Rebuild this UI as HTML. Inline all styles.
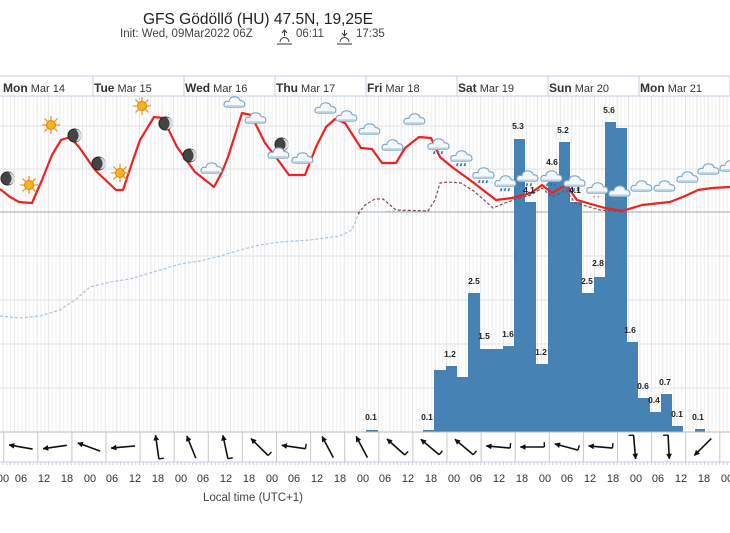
<!DOCTYPE html>
<html><head><meta charset="utf-8"><style>
html,body{margin:0;padding:0;background:#fff;}
svg{display:block;font-family:"Liberation Sans",sans-serif;}
.t{font-size:11px;fill:#333;}
.bl{font-size:8.5px;fill:#222;font-weight:bold;text-anchor:middle;}
.dl{font-size:12px;fill:#333;}
</style></head><body>
<svg id="s" width="730" height="533" viewBox="0 0 730 533" xmlns="http://www.w3.org/2000/svg">
<defs>
<symbol id="cl" viewBox="0 0 24 16">
<path d="M4 14 Q0 14 1 10 Q2 7 6 8 Q7 3 12 3 Q17 3 18 7 Q23 7 23 11 Q23 14 19 14 Z" fill="#f4f8fb" stroke="#7fa6c4" stroke-width="1.2"/>
<path d="M3 13 L21 13" stroke="#b9d0e2" stroke-width="2"/>
</symbol>
<symbol id="rn" viewBox="0 0 24 22">
<use href="#cl" x="0" y="0" width="24" height="16"/>
<path d="M8 16 l-1 3 M12 16 l-1 3 M16 16 l-1 3" stroke="#2a6fb0" stroke-width="1.6"/>
</symbol>
<symbol id="sn" viewBox="0 0 24 22">
<use href="#cl" x="0" y="0" width="24" height="16"/>
<text x="7" y="21" font-size="7" fill="#888">* *</text>
</symbol>
<symbol id="sun" viewBox="0 0 20 20">
<g stroke="#f39a1e" stroke-width="1.3">
<path d="M10 1v4M10 15v4M1 10h4M15 10h4M3.5 3.5l3 3M13.5 13.5l3 3M3.5 16.5l3-3M13.5 6.5l3-3"/></g>
<circle cx="10" cy="10" r="4.5" fill="#f7b51c" stroke="#e07a10"/>
</symbol>
<symbol id="moon" viewBox="0 0 16 16">
<circle cx="8" cy="8" r="7" fill="#444" stroke="#222"/>
<path d="M9 1.5 A6.5 6.5 0 0 1 9 14.5 A8 8 0 0 0 9 1.5Z" fill="#ddd"/>
</symbol>
</defs>
<g id="grid"></g>
<!-- title -->
<text x="258" y="24" font-size="15.5" fill="#222" text-anchor="middle">GFS Gödöllő (HU) 47.5N, 19,25E</text>
<text x="120" y="37" font-size="11.5" fill="#444">Init: Wed, 09Mar2022 06Z</text>
<g stroke="#333" fill="none" stroke-width="1"><path d="M277 44h15M280 42a4.5 4.5 0 0 1 9 0M284.5 31v5M282 33l2.5-3 2.5 3"/><path d="M337 44h15M340 42a4.5 4.5 0 0 1 9 0M344.5 30v6M342 33l2.5 3 2.5-3"/></g>
<text x="296" y="37" font-size="11.5" fill="#444">06:11</text>
<text x="356" y="37" font-size="11.5" fill="#444">17:35</text>
<!-- header -->
<line x1="0" y1="76" x2="730" y2="76" stroke="#c7d0e0"/>
<line x1="0" y1="96" x2="730" y2="96" stroke="#c7d0e0"/>
<g class="dl">
<text x="3" y="92"><tspan font-weight="bold">Mon</tspan><tspan font-size="11"> Mar 14</tspan></text>
<text x="94" y="92"><tspan font-weight="bold">Tue</tspan><tspan font-size="11"> Mar 15</tspan></text>
<text x="185" y="92"><tspan font-weight="bold">Wed</tspan><tspan font-size="11"> Mar 16</tspan></text>
<text x="276" y="92"><tspan font-weight="bold">Thu</tspan><tspan font-size="11"> Mar 17</tspan></text>
<text x="367" y="92"><tspan font-weight="bold">Fri</tspan><tspan font-size="11"> Mar 18</tspan></text>
<text x="458" y="92"><tspan font-weight="bold">Sat</tspan><tspan font-size="11"> Mar 19</tspan></text>
<text x="549" y="92"><tspan font-weight="bold">Sun</tspan><tspan font-size="11"> Mar 20</tspan></text>
<text x="640" y="92"><tspan font-weight="bold">Mon</tspan><tspan font-size="11"> Mar 21</tspan></text>
<text x="731" y="92" font-weight="bold">T</text>
</g>
<g id="bars" fill="#4682b4"></g>
<!-- lines -->
<polyline fill="none" stroke="#a8c4e0" stroke-width="1.2" stroke-dasharray="3,2" points="0,316 20,318 40,316 60,310 75,300 90,287 110,282 130,279 160,270 180,264 200,261 220,256 240,250 260,245 280,242 310,240 340,236 352,230 357,218 360,212 380,212 395,211 430,211"/>
<polyline fill="none" stroke="#8b4a4a" stroke-width="1.2" stroke-dasharray="3,2" points="358,214 365,205 375,199 383,199 390,205 396,210 428,211 435,200 440,183 448,182 461,183 475,192 493,208 505,203 520,198 531,195 542,188 552,197 566,190 575,203 600,210 622,212"/>
<polyline fill="none" stroke="#ee2222" stroke-width="2.2" stroke-linejoin="round" points="0,189 10,197 19,202 32,203 42,180 52,155 61,140 70,137 79,147 95,170 116,190 123,190 132,163 140,140 154,117 163,118 177,147 195,172 214,187 222,172 228,157 242,113 251,115 265,143 278,160 289,175 305,175 316,147 326,127 335,119 345,123 361,148 372,149 382,163 396,163 405,148 419,137 431,138 440,157 452,167 470,180 496,200 512,198 531,193 542,185 552,193 566,185 577,200 605,208 622,211 642,205 670,202 685,196 698,190 712,188 730,187"/>
<!-- icons -->
<g>
<use href="#moon" x="0" y="171" width="15" height="15"/>
<use href="#moon" x="67" y="128" width="15" height="15"/>
<use href="#moon" x="91" y="156" width="15" height="15"/>
<use href="#moon" x="158" y="116" width="15" height="15"/>
<use href="#moon" x="182" y="148" width="15" height="15"/>
<use href="#moon" x="274" y="137" width="15" height="15"/>
<use href="#sun" x="19" y="175" width="20" height="20"/>
<use href="#sun" x="41" y="115" width="20" height="20"/>
<use href="#sun" x="110" y="163" width="20" height="20"/>
<use href="#sun" x="132" y="96" width="20" height="20"/>
<use href="#cl" x="223" y="94" width="23" height="15"/>
<use href="#cl" x="244" y="110" width="23" height="15"/>
<use href="#cl" x="200" y="160" width="23" height="15"/>
<use href="#cl" x="267" y="145" width="23" height="15"/>
<use href="#cl" x="291" y="150" width="23" height="15"/>
<use href="#cl" x="314" y="100" width="23" height="15"/>
<use href="#cl" x="335" y="108" width="23" height="15"/>
<use href="#cl" x="358" y="121" width="23" height="15"/>
<use href="#cl" x="381" y="137" width="23" height="15"/>
<use href="#cl" x="403" y="111" width="23" height="15"/>
<use href="#rn" x="427" y="136" width="23" height="21"/>
<use href="#rn" x="450" y="148" width="23" height="21"/>
<use href="#rn" x="472" y="165" width="23" height="21"/>
<use href="#rn" x="494" y="173" width="23" height="21"/>
<use href="#rn" x="516" y="168" width="23" height="21"/>
<use href="#rn" x="540" y="168" width="23" height="21"/>
<use href="#rn" x="563" y="173" width="23" height="21"/>
<use href="#sn" x="586" y="180" width="23" height="21"/>
<use href="#sn" x="608" y="183" width="23" height="21"/>
<use href="#cl" x="630" y="178" width="23" height="15"/>
<use href="#cl" x="653" y="178" width="23" height="15"/>
<use href="#cl" x="676" y="169" width="23" height="15"/>
<use href="#cl" x="697" y="161" width="23" height="15"/>
<use href="#cl" x="719" y="158" width="23" height="15"/>
</g>
<!-- bar labels -->
<g class="bl">
<text x="371" y="420">0.1</text>
<text x="427" y="420">0.1</text>
<text x="450" y="357">1.2</text>
<text x="474" y="284">2.5</text>
<text x="484" y="339">1.5</text>
<text x="508" y="337">1.6</text>
<text x="518" y="129">5.3</text>
<text x="529" y="193">4.1</text>
<text x="541" y="355">1.2</text>
<text x="552" y="165">4.6</text>
<text x="563" y="133">5.2</text>
<text x="575" y="193">4.1</text>
<text x="587" y="284">2.5</text>
<text x="598" y="266">2.8</text>
<text x="609" y="113">5.6</text>
<text x="630" y="333">1.6</text>
<text x="643" y="389">0.6</text>
<text x="654" y="403">0.4</text>
<text x="665" y="385">0.7</text>
<text x="677" y="417">0.1</text>
<text x="698" y="420">0.1</text>
</g>
<!-- wind row -->
<line x1="0" y1="432" x2="730" y2="432" stroke="#bbb"/>
<line x1="0" y1="462" x2="730" y2="462" stroke="#c7d0e0"/>
<g id="wind" stroke="#111" stroke-width="1.6" fill="none"></g>
<g class="t" text-anchor="middle" id="ticks">
<text x="3" y="482">00</text><text x="21" y="482">06</text><text x="44" y="482">12</text><text x="67" y="482">18</text>
<text x="90" y="482">00</text><text x="112" y="482">06</text><text x="135" y="482">12</text><text x="158" y="482">18</text>
<text x="181" y="482">00</text><text x="203" y="482">06</text><text x="226" y="482">12</text><text x="249" y="482">18</text>
<text x="272" y="482">00</text><text x="294" y="482">06</text><text x="317" y="482">12</text><text x="340" y="482">18</text>
<text x="363" y="482">00</text><text x="385" y="482">06</text><text x="408" y="482">12</text><text x="431" y="482">18</text>
<text x="454" y="482">00</text><text x="476" y="482">06</text><text x="499" y="482">12</text><text x="522" y="482">18</text>
<text x="545" y="482">00</text><text x="567" y="482">06</text><text x="590" y="482">12</text><text x="613" y="482">18</text>
<text x="636" y="482">00</text><text x="658" y="482">06</text><text x="681" y="482">12</text><text x="704" y="482">18</text>
<text x="727" y="482">00</text>
</g>
<text x="253" y="501" font-size="11.5" fill="#444" text-anchor="middle">Local time (UTC+1)</text>
</svg>
<script>
var NS="http://www.w3.org/2000/svg";
function el(p,t,a){var e=document.createElementNS(NS,t);for(var k in a)e.setAttribute(k,a[k]);p.insertBefore?p.appendChild(e):0;return e;}
var g=document.getElementById('grid');
for(var i=0;i<200;i++){var x=3+i*91/24;if(x>730)break;el(g,'line',{x1:x,y1:96,x2:x,y2:432,stroke:i%3==0?'#e6e6e6':'#f1f1f1','stroke-width':1});}
[126,169,256,300,344,388].forEach(function(y){el(g,'line',{x1:0,y1:y,x2:730,y2:y,stroke:'#e2e2e2'});});
el(g,'line',{x1:0,y1:212,x2:730,y2:212,stroke:'#a8a8a8'});
for(var d=1;d<9;d++){var x=3+d*91-1;el(g,'line',{x1:x,y1:76,x2:x,y2:96,stroke:'#c7d0e0'});}
var b=document.getElementById('bars');
[[366,378,430],[423,434,430],[434,446,370],[446,457,366],[457,468,377],[468,480,293],[480,492,349],[492,503,349],[503,514,346],[514,525,139],[525,536,202],[536,548,364],[548,559,180],[559,570,142],[570,582,202],[582,594,293],[594,605,277],[605,616,122],[616,627,128],[627,638,342],[638,650,398],[650,661,412],[661,672,394],[672,683,426],[695,705,429]].forEach(function(r){el(b,'rect',{x:r[0],y:r[2],width:r[1]-r[0],height:432-r[2]});});
var w=document.getElementById('wind');
for(var i=0;i<23;i++){var x=3.7+i*34.1;el(w,'line',{x1:x,y1:432,x2:x,y2:462,stroke:'#c8c8c8','stroke-width':1});}
for(var i=0;i<200;i++){var x=3+i*91/24;if(x>730)break;el(w,'line',{x1:x,y1:462,x2:x,y2:465,stroke:'#c7d0e0','stroke-width':1});}
// angle: direction arrow points, degrees (0=right, 90=up)
var A=[[0,0],[170,0],[188,0],[160,0],[185,0],[98,1],[112,0],[102,1],[135,1],[172,1],[118,0],[118,0],[138,1],[140,1],[140,1],[175,1],[180,1],[165,1],[175,1],[-85,1],[-87,1],[-135,0]];
A.forEach(function(a,i){if(i==0)return;var cx=3.7+i*34.1-17,cy=447,r=12,t=a[0]*Math.PI/180,dx=Math.cos(t)*r,dy=-Math.sin(t)*r;
var hx=cx+dx,hy=cy+dy,tx=cx-dx,ty=cy-dy;
el(w,'line',{x1:tx,y1:ty,x2:hx,y2:hy});
var ux=dx/r,uy=dy/r,px=-uy,py=ux;
el(w,'path',{d:'M'+hx+' '+hy+'L'+(hx-ux*5+px*2.5)+' '+(hy-uy*5+py*2.5)+'L'+(hx-ux*5-px*2.5)+' '+(hy-uy*5-py*2.5)+'Z',fill:'#111','stroke-width':0.5});
if(a[1])el(w,'line',{x1:tx,y1:ty,x2:tx+px*5,y2:ty+py*5,'stroke-width':1.4});});
</script>
</body></html>
